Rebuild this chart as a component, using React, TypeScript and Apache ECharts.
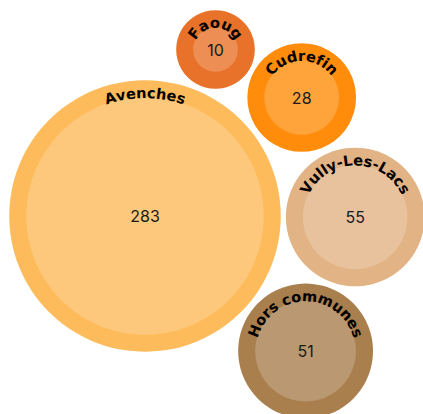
import React, { useEffect, useRef } from "react";
import * as echarts from "echarts";

// ---- data ----
const categories = ["Avenches", "Faoug", "Cudrefin", "Vully-Les-Lacs", "Hors communes"];
const values = [283, 10, 28, 55, 51];

// ---- layout (packing result, in canvas px) ----
const centersX = [145, 215.5, 301.7, 355.2, 305.6];
const centersY = [216, 49.5, 97.5, 217, 351];

// ---- styles ----
const colors = ["#fdbb5b", "#e9722a", "#ff8c0b", "#e1b385", "#a97f4e"];
const W = 423;
const H = 414;
const RING = 17;
const K = 7.06;
const radiusScale = (v: number) => K * Math.sqrt(v);

const LABEL_FONT_FAMILY = "'DejaVu Sans', sans-serif";
const LABEL_FONT_SIZE = 14.6;
const LABEL_SPACING = 0.1;

let measureCtx: CanvasRenderingContext2D | null = null;
function charWidth(ch: string): number {
  if (!measureCtx) {
    const c = document.createElement("canvas");
    measureCtx = c.getContext("2d");
  }
  if (!measureCtx) return LABEL_FONT_SIZE * 0.65;
  measureCtx.font = `bold ${LABEL_FONT_SIZE}px ${LABEL_FONT_FAMILY}`;
  return measureCtx.measureText(ch).width;
}

function arcText(text: string, cx: number, cy: number, R: number) {
  const chars = Array.from(text);
  const widths = chars.map(charWidth);
  const total = widths.reduce((a, b) => a + b, 0) + LABEL_SPACING * (chars.length - 1);
  const children: any[] = [];
  let s = 0;
  const rMid = R + LABEL_FONT_SIZE * 0.32;
  chars.forEach((ch, i) => {
    const mid = s + widths[i] / 2;
    const theta = -Math.PI / 2 + (mid - total / 2) / R;
    children.push({
      type: "text",
      x: cx + rMid * Math.cos(theta),
      y: cy + rMid * Math.sin(theta),
      rotation: -(theta + Math.PI / 2),
      style: {
        text: ch,
        fontFamily: LABEL_FONT_FAMILY,
        fontSize: LABEL_FONT_SIZE,
        fontWeight: "bold",
        fill: "#000",
        align: "center",
        verticalAlign: "middle",
      },
    });
    s += widths[i] + LABEL_SPACING;
  });
  return children;
}

export default function App() {
  const ref = useRef<HTMLDivElement>(null);
  useEffect(() => {
    if (!ref.current) return;
    const chart = echarts.init(ref.current, undefined, { renderer: "svg" });
    const data = categories.map((name, i) => ({
      name,
      value: [centersX[i], centersY[i], values[i], i],
    }));
    chart.setOption({
      animation: false,
      grid: { left: 0, right: 0, top: 0, bottom: 0 },
      xAxis: { type: "value", min: 0, max: W, show: false },
      yAxis: { type: "value", min: 0, max: H, inverse: true, show: false },
      series: [
        {
          type: "custom",
          coordinateSystem: "cartesian2d",
          data,
          renderItem: (params: any, api: any) => {
            const p = api.coord([api.value(0), api.value(1)]);
            const v = api.value(2) as number;
            const idx = api.value(3) as number;
            const rIn = radiusScale(v);
            const rOut = rIn + RING;
            return {
              type: "group",
              children: [
                { type: "circle", shape: { cx: p[0], cy: p[1], r: rOut }, style: { fill: colors[idx] } },
                {
                  type: "circle",
                  shape: { cx: p[0], cy: p[1], r: rIn },
                  style: { fill: "rgba(255,255,255,0.2)" },
                },
                {
                  type: "text",
                  x: p[0],
                  y: p[1],
                  style: {
                    text: String(v),
                    fontFamily: "Inter, 'Noto Sans', sans-serif",
                    fontSize: 16,
                    fill: "#1a1a1a",
                    align: "center",
                    verticalAlign: "middle",
                  },
                },
                ...arcText(categories[idx], p[0], p[1], rIn),
              ],
            };
          },
        },
      ],
    });
    return () => chart.dispose();
  }, []);
  return (
    <div
      ref={ref}
      style={{ position: "fixed", left: 0, top: 0, width: W, height: H, background: "#fff" }}
    />
  );
}
